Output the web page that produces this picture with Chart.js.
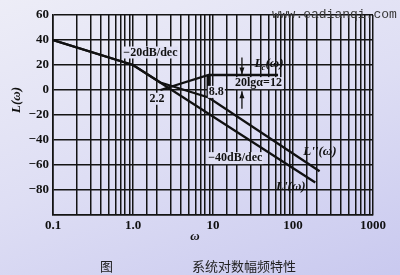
<!DOCTYPE html>
<html>
<head>
<meta charset="utf-8">
<script src="https://cdn.jsdelivr.net/npm/chart.js@4/dist/chart.umd.min.js"></script>
<style>
  html, body { margin: 0; padding: 0; }
  body {
    width: 400px; height: 275px; overflow: hidden; position: relative;
    background: linear-gradient(160deg, #ededf7 0%, #dedef4 50%, #c9c9ef 100%);
  }
  #wrap { position: absolute; left: 0; top: 0; width: 400px; height: 275px; }
  .cap { position: absolute; font-family: "Noto Sans CJK SC", sans-serif; font-size: 13px; color: #222; }
  #mark { position: absolute; left: 272px; top: 7px; font-family: "Liberation Mono", monospace; font-size: 13px; color: #3a3a3a; }
</style>
</head>
<body>
<div id="wrap"><canvas id="bode" width="400" height="275"></canvas></div>
<div id="mark">www.eadianqi.com</div>
<div class="cap" style="left:100px; top:256px;">图</div>
<div class="cap" style="left:192px; top:256px;">系统对数幅频特性</div>
<script>
// ===== data =====
const omegaL1 = [0.1, 1, 190];          // L'(w) corner points
const magL1 = [40, 20, -74];
const omegaL2 = [0.1, 1, 2.2, 8.8, 215]; // L''(w), corrected
const magL2 = [40, 20, 6, -6, -65];
const omegaLc = [2.2, 8.8, 65];          // Lc(w), compensator
const magLc = [0, 12, 12];
const omegaBar = [8.8, 8.8];             // marker at w = 8.8
const magBar = [12, -6];

const xTickValues = [0.1, 1, 10, 100, 1000];
const xTickLabels = ['0.1', '1.0', '10', '100', '1000'];

// text notes: [text, omega, dB]
const notes = [
  ['\u221220dB/dec', 1.65, 30],
  ['2.2', 2.0, -7],
  ['8.8', 11, -1.5],
  ['20lg\u03b1=12', 37, 5.5],
  ['\u221240dB/dec', 19, -54.5]
];

function pts(xs, ys) {
  return xs.map((x, i) => ({ x: x, y: ys[i] }));
}

function line(xs, ys, w) {
  return {
    data: pts(xs, ys),
    showLine: true,
    borderColor: '#111',
    borderWidth: w,
    pointRadius: 0,
    tension: 0
  };
}

const serif = '"Liberation Serif", "DejaVu Serif", serif';
const textBg = 'rgba(224,224,243,1)';

// ===== notes, arrows, axis titles =====
const notesPlugin = {
  id: 'notes',
  afterDatasetsDraw(chart) {
    const ctx = chart.ctx;
    const xs = chart.scales.x, ys = chart.scales.y;
    ctx.save();
    ctx.fillStyle = '#111';
    ctx.textBaseline = 'middle';
    ctx.textAlign = 'center';
    ctx.font = 'bold 12px ' + serif;

    notes.forEach(n => {
      const px = xs.getPixelForValue(n[1]);
      const py = ys.getPixelForValue(n[2]);
      const w = ctx.measureText(n[0]).width;
      ctx.fillStyle = textBg;
      ctx.fillRect(px - w / 2 - 1, py - 6, w + 2, 12);
      ctx.fillStyle = '#111';
      ctx.fillText(n[0], px, py);
    });

    // L labels (italic)
    ctx.font = 'italic bold 13px ' + serif;
    let px = xs.getPixelForValue(217), py = ys.getPixelForValue(-49);
    ctx.fillText("L''(\u03c9)", px, py);
    px = xs.getPixelForValue(94); py = ys.getPixelForValue(-77);
    ctx.fillText("L'(\u03c9)", px, py);

    // Lc(w) with subscript
    px = xs.getPixelForValue(33); py = ys.getPixelForValue(21);
    ctx.textAlign = 'left';
    ctx.fillText('L', px, py);
    let wL = ctx.measureText('L').width;
    ctx.font = 'italic bold 9px ' + serif;
    ctx.fillText('c', px + wL - 1, py + 4);
    let wc = ctx.measureText('c').width;
    ctx.font = 'italic bold 13px ' + serif;
    ctx.fillText('(\u03c9)', px + wL + wc - 1, py);

    // arrows for 20lg(alpha)
    const ax = xs.getPixelForValue(23);
    const arrow = (y0, y1) => {
      const p0 = ys.getPixelForValue(y0), p1 = ys.getPixelForValue(y1);
      const d = p1 > p0 ? 1 : -1;
      ctx.strokeStyle = '#111';
      ctx.lineWidth = 1.3;
      ctx.beginPath();
      ctx.moveTo(ax, p0);
      ctx.lineTo(ax, p1);
      ctx.stroke();
      ctx.beginPath();
      ctx.moveTo(ax, p1);
      ctx.lineTo(ax - 2.5, p1 - d * 7);
      ctx.lineTo(ax + 2.5, p1 - d * 7);
      ctx.closePath();
      ctx.fill();
    };
    arrow(26, 12.5);
    arrow(-15, -1);

    // axis titles
    ctx.font = 'italic bold 13px ' + serif;
    ctx.textAlign = 'center';
    ctx.fillText('\u03c9', 195, 237);
    ctx.translate(17, 100);
    ctx.rotate(-Math.PI / 2);
    ctx.fillText('L(\u03c9)', 0, 0);
    ctx.restore();
  }
};

new Chart(document.getElementById('bode'), {
  type: 'scatter',
  data: {
    datasets: [
      line(omegaL1, magL1, 2.3),
      line(omegaL2, magL2, 2.3),
      line(omegaLc, magLc, 2.3),
      line(omegaBar, magBar, 4)
    ]
  },
  options: {
    responsive: false,
    animation: false,
    layout: { padding: { left: 0, right: 27, top: 15, bottom: 0 } },
    plugins: { legend: { display: false }, tooltip: { enabled: false } },
    scales: {
      x: {
        type: 'logarithmic',
        min: 0.1,
        max: 1000,
        afterFit: s => { s.height = 60; },
        grid: { color: '#141414', lineWidth: 1.5, drawTicks: false },
        border: { color: '#141414', width: 1.6 },
        ticks: {
          autoSkip: false,
          maxRotation: 0,
          padding: 3,
          color: '#111',
          font: { family: serif, size: 13, weight: 'bold' },
          callback: v => {
            const i = xTickValues.findIndex(t => Math.abs(t - v) < 1e-9 * Math.max(1, v));
            return i >= 0 ? xTickLabels[i] : '';
          }
        }
      },
      y: {
        min: -100,
        max: 60,
        afterFit: s => { s.width = 53; },
        grid: { color: '#141414', lineWidth: 1.5, drawTicks: false },
        border: { color: '#141414', width: 1.6 },
        ticks: {
          stepSize: 20,
          padding: 4,
          color: '#111',
          font: { family: serif, size: 13, weight: 'bold' },
          callback: v => v === -100 ? '' : (v < 0 ? '\u2212' + Math.abs(v) : String(v))
        }
      }
    }
  },
  plugins: [notesPlugin]
});
</script>
</body>
</html>
